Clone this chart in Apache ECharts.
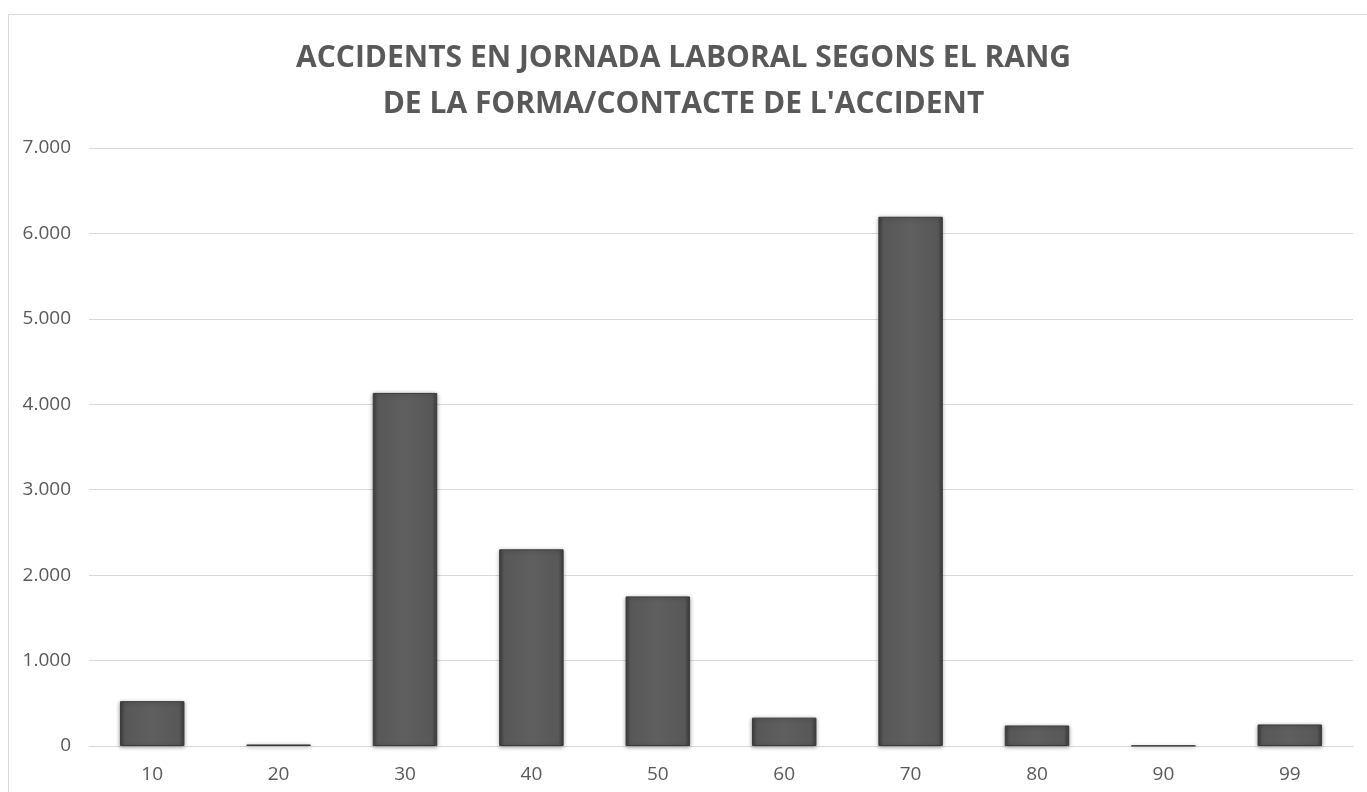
<!DOCTYPE html>
<html>
<head>
<meta charset="utf-8">
<script src="https://cdn.jsdelivr.net/npm/echarts@6/dist/echarts.min.js"></script>
<style>
  html, body { margin: 0; padding: 0; background: #fff; }
  #chart { width: 1367px; height: 792px; }
</style>
</head>
<body>
<div id="chart"></div>
<script>
var categories = ["10", "20", "30", "40", "50", "60", "70", "80", "90", "99"];
var accidents = [525, 18, 4133, 2302, 1751, 332, 6195, 240, 4, 252];
var yTicks = [0, 1000, 2000, 3000, 4000, 5000, 6000, 7000];

var myChart = echarts.init(document.getElementById("chart"));

function formatThousands(v) {
  return String(v).replace(/\B(?=(\d{3})+(?!\d))/g, ".");
}

myChart.setOption({
  animation: false,
  backgroundColor: "#ffffff",
  graphic: [
    {
      type: "rect",
      shape: { x: 8.5, y: 14.5, width: 1400, height: 800 },
      style: { fill: "none", stroke: "#d9d9d9", lineWidth: 1 },
      silent: true,
    },
  ],
  title: {
    text: "ACCIDENTS EN JORNADA LABORAL SEGONS EL RANG\nDE LA FORMA/CONTACTE DE L'ACCIDENT",
    left: "center",
    top: 30,
    textStyle: {
      fontFamily: "Open Sans",
      fontWeight: "bold",
      fontSize: 30,
      lineHeight: 46,
      color: "#595959",
    },
  },
  grid: {
    left: 89,
    right: 14,
    top: 148,
    bottom: 46,
    containLabel: false,
  },
  xAxis: {
    type: "category",
    data: categories,
    axisLine: { lineStyle: { color: "#d9d9d9", width: 1 } },
    axisTick: { show: false },
    axisLabel: {
      color: "#595959",
      fontSize: 19,
      fontFamily: "Open Sans",
      margin: 19,
    },
  },
  yAxis: {
    type: "value",
    min: yTicks[0],
    max: yTicks[yTicks.length - 1],
    interval: 1000,
    axisLine: { show: false },
    axisTick: { show: false },
    splitLine: { lineStyle: { color: "#d9d9d9", width: 1 } },
    axisLabel: {
      color: "#595959",
      fontSize: 19,
      fontFamily: "Open Sans",
      margin: 18,
      formatter: formatThousands,
    },
  },
  series: [
    {
      name: "Accidents",
      type: "bar",
      data: accidents,
      barWidth: "51%",
      itemStyle: {
        color: new echarts.graphic.LinearGradient(0, 0, 1, 0, [
          { offset: 0, color: "#3d3d3d" },
          { offset: 0.08, color: "#585858" },
          { offset: 0.5, color: "#5f5f5f" },
          { offset: 0.92, color: "#585858" },
          { offset: 1, color: "#3d3d3d" },
        ]),
        borderColor: "#3a3a3a",
        borderWidth: 1,
        shadowColor: "rgba(0,0,0,0.35)",
        shadowBlur: 4,
        shadowOffsetY: 1,
      },
    },
  ],
});
</script>
</body>
</html>
